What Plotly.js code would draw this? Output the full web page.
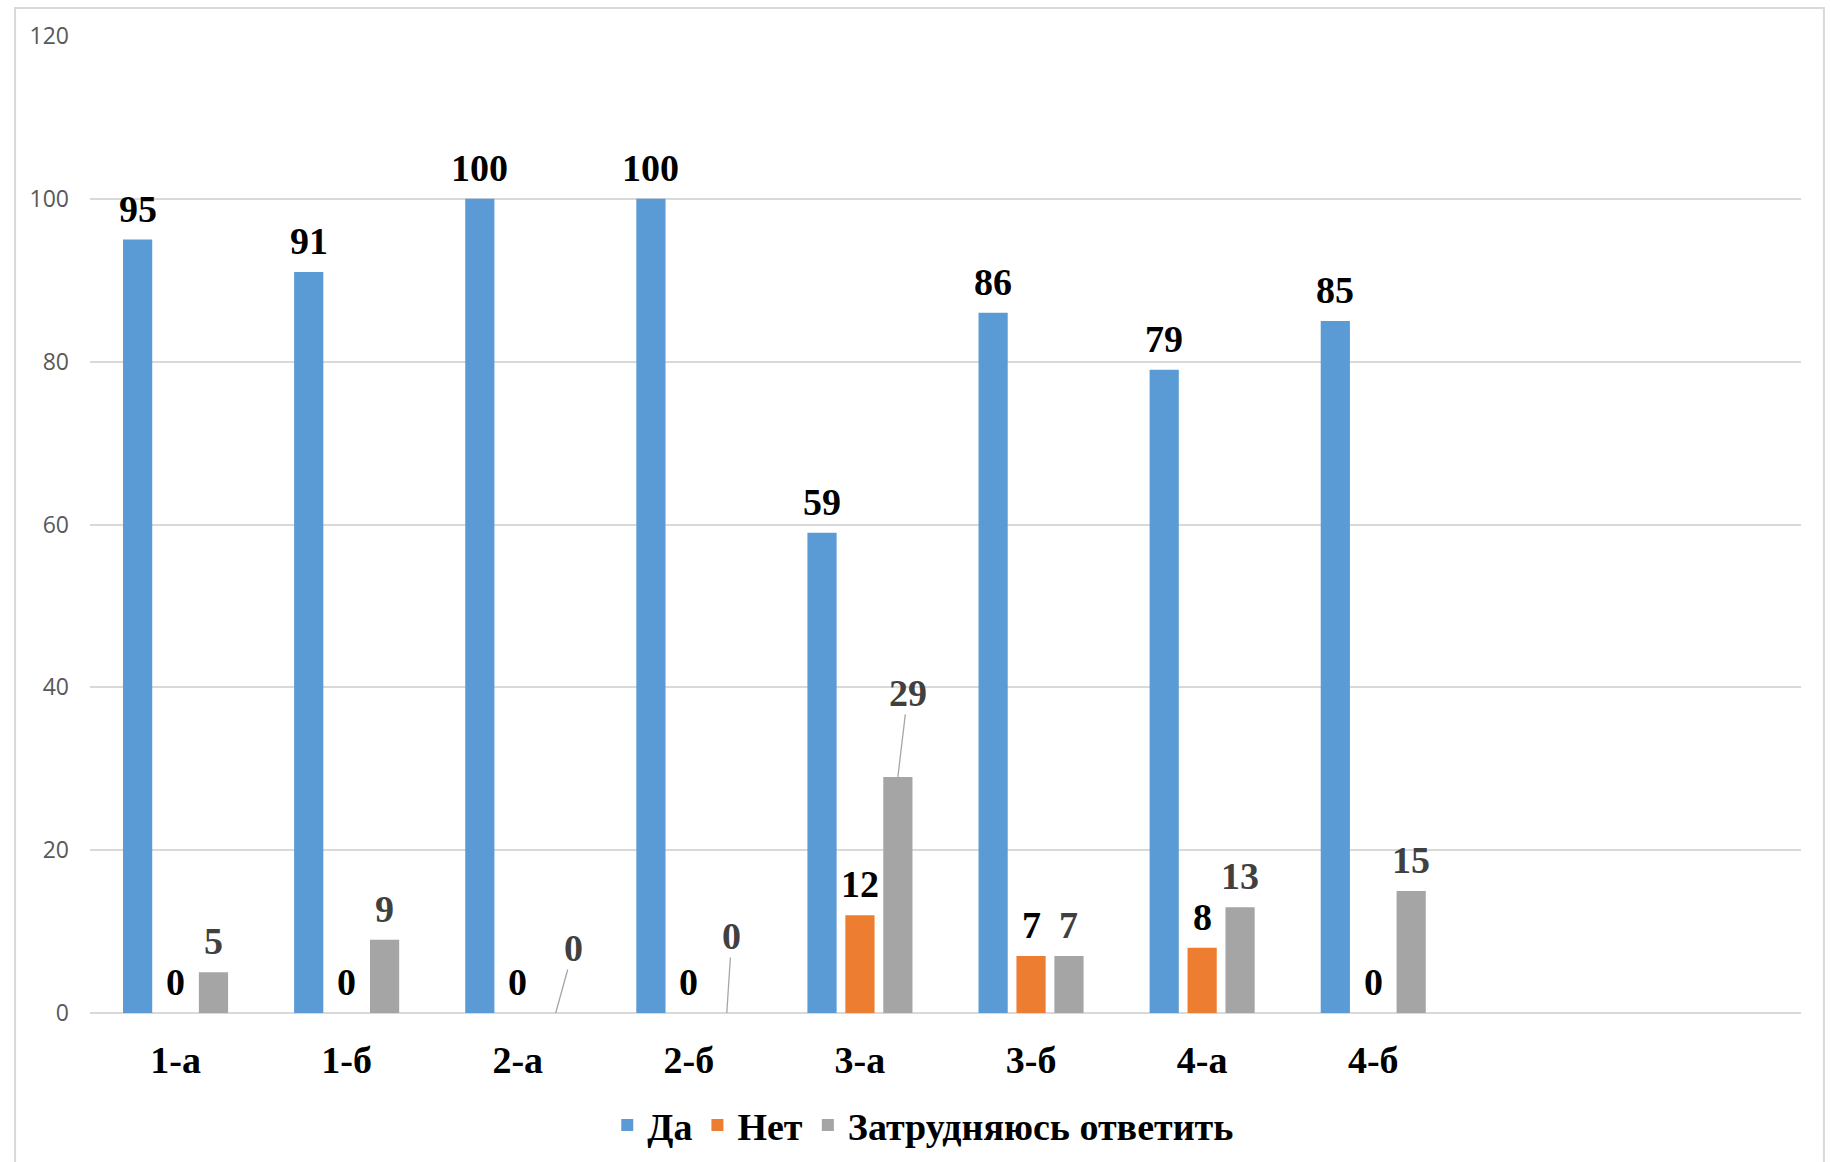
<!DOCTYPE html>
<html>
<head>
<meta charset="utf-8">
<script src="https://cdn.plot.ly/plotly-3.0.1.min.js"></script>
<style>html,body{margin:0;padding:0;background:#fff;}#chart{width:1830px;height:1162px;}</style>
</head>
<body>
<div id="chart"></div>
<script>
// ---- data ----
var categories = ['1-а', '1-б', '2-а', '2-б', '3-а', '3-б', '4-а', '4-б'];
var seriesNames = ['Да', 'Нет', 'Затрудняюсь ответить'];
var da = [95, 91, 100, 100, 59, 86, 79, 85];
var net = [0, 0, 0, 0, 12, 7, 8, 0];
var zatr = [5, 9, 0, 0, 29, 7, 13, 15];
var yTicks = [0, 20, 40, 60, 80, 100, 120];
// labels of the third series that are moved off the bar with a leader line
var calloutIdx = [2, 3, 4];
var calloutShift = [[18, -65], [5, -77], [10, -84]];

var colors = ['#5b9bd5', '#ed7d31', '#a5a5a5'];
var labelColors = ['#000000', '#000000', '#404040'];
var labelFont = 'Liberation Serif, Times New Roman, serif';
var fs = 38;

var series = [da, net, zatr];
var traces = series.map(function (vals, s) {
  return {
    type: 'bar', name: seriesNames[s], x: categories, y: vals,
    marker: {color: colors[s]}, hoverinfo: 'x+y'
  };
});

var bargap = 0.335, bargroupgap = 0.23;
var slot = (1 - bargap) / 3;
var annotations = [];
series.forEach(function (vals, s) {
  vals.forEach(function (v, i) {
    var xpos = i + (s - 1) * slot;
    var ci = (s === 2) ? calloutIdx.indexOf(i) : -1;
    if (ci >= 0) {
      annotations.push({
        x: xpos, y: v, xref: 'x', yref: 'y',
        text: '<b>' + v + '</b>',
        showarrow: true, arrowhead: 0, arrowwidth: 1.3, arrowcolor: '#a6a6a6',
        ax: calloutShift[ci][0], ay: calloutShift[ci][1],
        font: {family: labelFont, size: fs, color: labelColors[s]}, borderpad: 0
      });
    } else {
      annotations.push({
        x: xpos, y: v, xref: 'x', yref: 'y',
        text: '<b>' + v + '</b>', showarrow: false,
        yanchor: 'middle', xanchor: 'center', yshift: 31,
        font: {family: labelFont, size: fs, color: labelColors[s]}
      });
    }
  });
});

var layout = {
  width: 1830, height: 1162,
  margin: {l: 90, r: 29, t: 36, b: 149, autoexpand: false},
  paper_bgcolor: '#ffffff', plot_bgcolor: '#ffffff',
  barmode: 'group', bargap: bargap, bargroupgap: bargroupgap,
  showlegend: true,
  legend: {orientation: 'h', x: 0.487, xanchor: 'center', y: -0.115, yanchor: 'middle',
    font: {family: labelFont, size: fs, color: '#000000', weight: 'bold'},
    traceorder: 'normal', itemclick: false},
  xaxis: {
    type: 'category', categoryorder: 'array', categoryarray: categories,
    range: [-0.5, 9.5], showgrid: false, zeroline: false, automargin: false,
    showline: false, ticks: '', ticklabelstandoff: 21,
    tickfont: {family: labelFont, size: fs, color: '#000000', weight: 'bold'}
  },
  yaxis: {
    range: [0, 120], tickvals: yTicks, showgrid: true, gridcolor: '#d9d9d9', gridwidth: 2,
    zeroline: true, zerolinecolor: '#d9d9d9', zerolinewidth: 2, showline: false, ticks: '',
    ticklabelstandoff: 20, automargin: false,
    tickfont: {family: 'Open Sans, Liberation Sans, sans-serif', size: 23, color: '#595959'}
  },
  shapes: [{
    type: 'rect', xref: 'paper', yref: 'paper',
    x0: -0.0438, x1: 1.0134, y0: -0.2, y1: 1.0287,
    line: {color: '#d9d9d9', width: 2}, fillcolor: 'rgba(0,0,0,0)', layer: 'below'
  }],
  annotations: annotations
};

Plotly.newPlot('chart', traces, layout, {displayModeBar: false, staticPlot: true});
</script>
</body>
</html>
